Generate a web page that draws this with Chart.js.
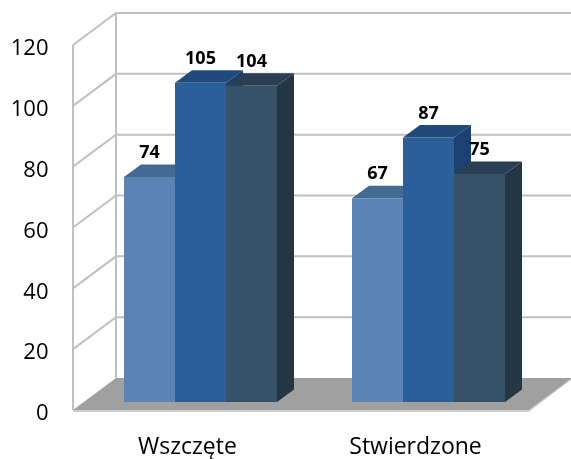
<!DOCTYPE html>
<html><head><meta charset="utf-8">
<style>html,body{margin:0;padding:0;background:#fff}canvas{display:block}</style>
<script src="https://cdn.jsdelivr.net/npm/chart.js@4/dist/chart.umd.min.js"></script>
</head><body><canvas id="c" width="571" height="459"></canvas>
<script>
const categories = ["Wszczęte", "Stwierdzone"];
const seriesA = [74, 67];
const seriesB = [105, 87];
const seriesC = [104, 75];
const yMin = 0, yMax = 120, yStep = 20;

const frontColors = ["#5b83b4", "#2a5f9a", "#355269"];
const topColors = ["#446a92", "#1f4a7a", "#2a3f54"];
const sideColors = ["#3a5c82", "#1c4170", "#243543"];
const wallColor = "#c0c0c0", floorColor = "#a0a0a0", floorEdge = "#cfcfcf";
// plane offsets relative to the plane of the bar fronts
const wallFront = {dx: -13.5, dy: 8}, wallBack = {dx: 29.5, dy: -24}, barDepth = {dx: 17, dy: -12.5};

const scene3d = {
  id: "scene3d",
  beforeDatasetsDraw(chart) {
    const {ctx, scales: {x, y}} = chart;
    const L = chart.chartArea.left, R = chart.chartArea.right;
    const y0 = y.getPixelForValue(yMin);
    const poly = (pts, fill) => {
      ctx.beginPath();
      pts.forEach((p, i) => i ? ctx.lineTo(p[0], p[1]) : ctx.moveTo(p[0], p[1]));
      ctx.closePath(); ctx.fillStyle = fill; ctx.fill();
    };
    const line = (pts, col, w) => {
      ctx.beginPath();
      pts.forEach((p, i) => i ? ctx.lineTo(p[0], p[1]) : ctx.moveTo(p[0], p[1]));
      ctx.strokeStyle = col; ctx.lineWidth = w; ctx.stroke();
    };
    ctx.save();
    const fx = L + wallFront.dx, bx = L + wallBack.dx, rx = R + wallBack.dx, frx = R + wallFront.dx;
    y.ticks.forEach(t => {
      const p = y.getPixelForValue(t.value);
      if (t.value !== yMin) {
        line([[fx, p + wallFront.dy], [bx, p + wallBack.dy], [rx, p + wallBack.dy]], wallColor, 2);
      }
    });
    const top = y.getPixelForValue(yMax);
    line([[fx, top + wallFront.dy], [fx, y0 + wallFront.dy]], wallColor, 2);
    line([[bx, top + wallBack.dy], [bx, y0 + wallBack.dy]], wallColor, 2);
    // floor
    line([[fx, y0 + wallFront.dy + 1], [frx, y0 + wallFront.dy + 1]], floorEdge, 2);
    line([[frx, y0 + wallFront.dy + 1], [rx, y0 + wallBack.dy]], floorEdge, 1.5);
    poly([[fx, y0 + wallFront.dy], [bx, y0 + wallBack.dy], [rx, y0 + wallBack.dy], [frx, y0 + wallFront.dy]], floorColor);
    // bar sides and tops
    chart.data.labels.forEach((_, i) => {
      chart.data.datasets.forEach((ds, d) => {
        const b = chart.getDatasetMeta(d).data[i];
        const l = b.x - b.width / 2, r = b.x + b.width / 2;
        poly([[r, b.y], [r + barDepth.dx, b.y + barDepth.dy], [r + barDepth.dx, b.base + barDepth.dy], [r, b.base]], sideColors[d]);
        poly([[l, b.y], [l + barDepth.dx, b.y + barDepth.dy], [r + barDepth.dx, b.y + barDepth.dy], [r, b.y]], topColors[d]);
      });
    });
    ctx.restore();
  },
  afterDatasetsDraw(chart) {
    const {ctx} = chart;
    ctx.save();
    ctx.fillStyle = "#000";
    ctx.font = "bold 18px 'Open Sans'";
    ctx.textAlign = "center";
    ctx.textBaseline = "middle";
    chart.data.datasets.forEach((ds, d) => {
      chart.getDatasetMeta(d).data.forEach((b, i) => {
        ctx.fillText(String(ds.data[i]), b.x, b.y - 24);
      });
    });
    ctx.restore();
  }
};

new Chart(document.getElementById("c"), {
  type: "bar",
  plugins: [scene3d],
  data: {
    labels: categories,
    datasets: [seriesA, seriesB, seriesC].map((data, i) => ({
      data, backgroundColor: frontColors[i], borderWidth: 0,
      categoryPercentage: 153 / 228, barPercentage: 1
    }))
  },
  options: {
    responsive: false, animation: false,
    layout: {padding: {top: 37, right: 28.5, left: 0, bottom: 0}},
    plugins: {legend: {display: false}, tooltip: {enabled: false}},
    scales: {
      x: {
        grid: {display: false, drawTicks: false}, border: {display: false},
        ticks: {color: "#000", font: {family: "'Open Sans'", size: 23}, padding: 32, labelOffset: -13, maxRotation: 0},
        afterFit(s) { s.height = 57; s.paddingLeft = 0; s.paddingRight = 0; }
      },
      y: {
        min: yMin, max: yMax,
        grid: {display: false, drawTicks: false}, border: {display: false},
        ticks: {
          stepSize: yStep, color: "#000", padding: 38,
          font: {family: "'Open Sans'", size: 22, lineHeight: "24px"},
          callback: v => ["", String(v)]
        },
        afterFit(s) { s.width = 86.5; s.paddingTop = 0; s.paddingBottom = 0; }
      }
    }
  }
});
</script></body></html>
